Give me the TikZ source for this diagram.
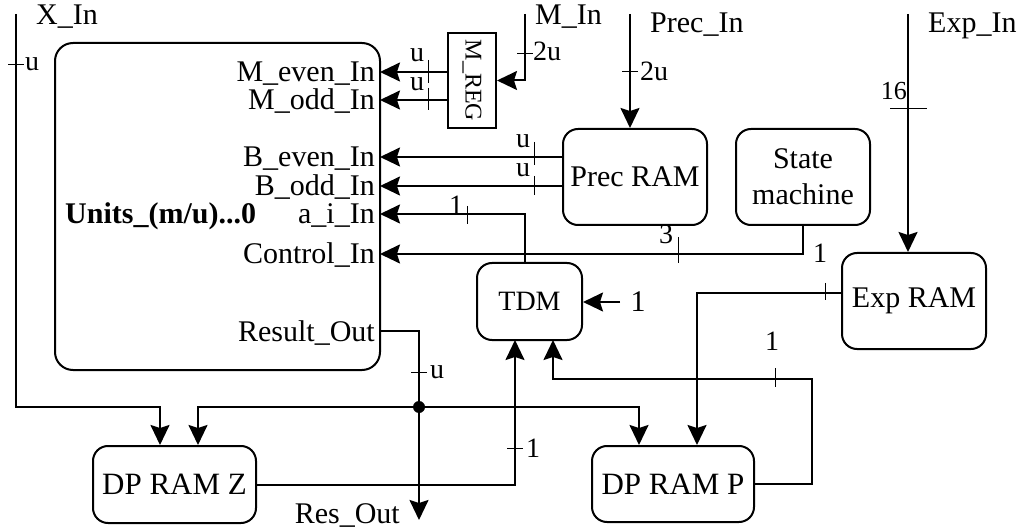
\documentclass[tikz,border=0pt]{standalone}
\usepackage{fontspec}
\setmainfont{Liberation Serif}
\usetikzlibrary{arrows.meta,calc}
\begin{document}
\begin{tikzpicture}[x=1pt,y=-1pt,
  arr/.style={line width=2pt,-{Stealth[length=20pt,width=19pt,inset=3pt]}},
  wire/.style={line width=2pt},
  tickmark/.style={line width=1pt},
  box/.style={draw,line width=2pt,rounded corners=15pt,inner sep=0pt,align=center,font=\fontsize{30}{36}\selectfont},
  lbl/.style={inner sep=0pt,font=\fontsize{30}{34}\selectfont},
  sl/.style={inner sep=0pt,font=\fontsize{28}{30}\selectfont}]
\useasboundingbox (0,0) rectangle (1025,529);

% blocks
\node[box,minimum width=325pt,minimum height=327pt,rounded corners=18pt] (units) at (217.5,206.5) {};
\node[draw,line width=2pt,minimum width=48pt,minimum height=95pt,inner sep=0pt] (mreg) at (472,80.5) {};
\node[inner sep=0pt,rotate=-90,font=\fontsize{24}{26}\selectfont] (mregt) at (mreg.center) {M\_REG};
\node[box,minimum width=144pt,minimum height=96pt] (prec) at (635,177) {Prec RAM};
\node[box,minimum width=134pt,minimum height=96pt] (sm) at (803,177) {State\\machine};
\node[box,minimum width=144pt,minimum height=96pt] (exp) at (914,301) {Exp RAM};
\node[box,minimum width=105pt,minimum height=77pt,font=\fontsize{28}{30}\selectfont] (tdm) at (529.5,301.5) {TDM};
\node[box,minimum width=163pt,minimum height=77pt,font=\fontsize{31}{34}\selectfont] (dpz) at (174.5,484.5) {DP RAM Z};
\node[box,minimum width=162pt,minimum height=76pt,font=\fontsize{31}{34}\selectfont] (dpp) at (673,484) {DP RAM P};

% labels inside Units
\node[lbl,anchor=base east] (lme) at (375,82) {M\_even\_In};
\node[lbl,anchor=base east] (lmo) at (375,110) {M\_odd\_In};
\node[lbl,anchor=base east] (lbe) at (375,167) {B\_even\_In};
\node[lbl,anchor=base east] (lbo) at (375,196) {B\_odd\_In};
\node[lbl,anchor=base east] (lai) at (375,224) {a\_i\_In};
\node[lbl,anchor=base east] (lct) at (375,264) {Control\_In};
\node[lbl,anchor=base east] (lro) at (375,341) {Result\_Out};
\node[lbl,anchor=base west,font=\fontsize{30}{34}\selectfont\bfseries] (lun) at (65,224) {Units\_(m/u)...0};

% ports
\coordinate (pme) at (380,72);
\coordinate (pmo) at (380,100);
\coordinate (pbe) at (380,157);
\coordinate (pbo) at (380,186);
\coordinate (pai) at (380,214);
\coordinate (pct) at (380,254);
\coordinate (pro) at (380,331);

% external inputs
\coordinate (xin) at (16,14);
\coordinate (min) at (525,14);
\coordinate (precin) at (630,14);
\coordinate (expin) at (908,14);
\node[lbl,anchor=base west] (lxin) at (36,25) {X\_In};
\node[lbl,anchor=base west] (lmin) at (535,25) {M\_In};
\node[lbl,anchor=base west] (lprecin) at (650,33) {Prec\_In};
\node[lbl,anchor=base west] (lexpin) at (928,33) {Exp\_In};

% connectors
\coordinate (xturn) at (160,407);
\draw[arr] (xin) |- (xturn) -- (xturn |- dpz.north);
\draw[arr] (min) |- (mreg.east);
\draw[arr] (mreg.west |- pme) -- (pme);
\draw[arr] (mreg.west |- pmo) -- (pmo);
\draw[arr] (precin) -- (precin |- prec.north);
\draw[arr] (prec.west |- pbe) -- (pbe);
\draw[arr] (prec.west |- pbo) -- (pbo);
\draw[arr] (sm.south) |- (pct);
\draw[arr] (expin) -- (expin |- exp.north);
\coordinate (tdmtop) at (525,263);
\draw[arr] (tdmtop) |- (pai);
\coordinate (tdmin) at (620,302);
\draw[arr] (tdmin) -- (tdm.east |- tdmin);
\coordinate (expout) at (842,293);
\coordinate (expturn) at (697,293);
\draw[arr] (expout) -- (expturn) -- (expturn |- dpp.north);
\coordinate (tdmb1) at (515,340);
\draw[arr] (dpz.east) -| (tdmb1);
\coordinate (fbr) at (812,379);
\coordinate (tdmb2) at (553,340);
\draw[arr] (dpp.east) -| (fbr) -| (tdmb2);
\coordinate (resturn) at (419,331);
\coordinate (resend) at (419,520);
\draw[arr] (pro) -- (resturn) -- (resend);
\coordinate (junc) at (419,407);
\fill (junc) circle (6pt);
\coordinate (jl) at (198,407);
\coordinate (jr) at (639,407);
\draw[arr] (junc) -- (jl) -- (jl |- dpz.north);
\draw[arr] (junc) -- (jr) -- (jr |- dpp.north);

% bus width ticks
\draw[tickmark] (8,65) -- (24,65);
\draw[tickmark] (517,54) -- (533,54);
\draw[tickmark] (622,72) -- (638,72);
\draw[tickmark] (890,109) -- (927,109);
\draw[tickmark] (428,60) -- (428,83);
\draw[tickmark] (428,88) -- (428,110);
\draw[tickmark] (534,142) -- (534,165);
\draw[tickmark] (534,176) -- (534,195);
\draw[tickmark] (467,206) -- (467,224);
\draw[tickmark] (678,237) -- (678,263);
\draw[tickmark] (825,283) -- (825,300);
\draw[tickmark] (775,368) -- (775,387);
\draw[tickmark] (411,372) -- (427,372);
\draw[tickmark] (507,448) -- (523,448);

% bus width labels
\node[sl,anchor=base west] (tu1) at (25,71) {u};
\node[sl,anchor=base] (tu2) at (417,62) {u};
\node[sl,anchor=base] (tu3) at (417,91) {u};
\node[sl,anchor=base west] (t2u1) at (533,61) {2u};
\node[sl,anchor=base west] (t2u2) at (640,81) {2u};
\node[inner sep=0pt,font=\fontsize{26}{28}\selectfont,anchor=base east] (t16) at (907,100) {16};
\node[sl,anchor=base] (tu4) at (523,148) {u};
\node[sl,anchor=base] (tu5) at (523,177) {u};
\node[sl,anchor=base] (t1a) at (456,215) {1};
\node[sl,anchor=base] (t3) at (666,244) {3};
\node[sl,anchor=base] (t1b) at (820,263) {1};
\node[lbl,anchor=base] (t1c) at (638,312) {1};
\node[sl,anchor=base] (t1d) at (772,350) {1};
\node[sl,anchor=base] (t1e) at (533,457) {1};
\node[sl,anchor=base west] (tu6) at (430,378) {u};
\node[lbl,anchor=base east] (lres) at (400,523) {Res\_Out};
\end{tikzpicture}
\end{document}
